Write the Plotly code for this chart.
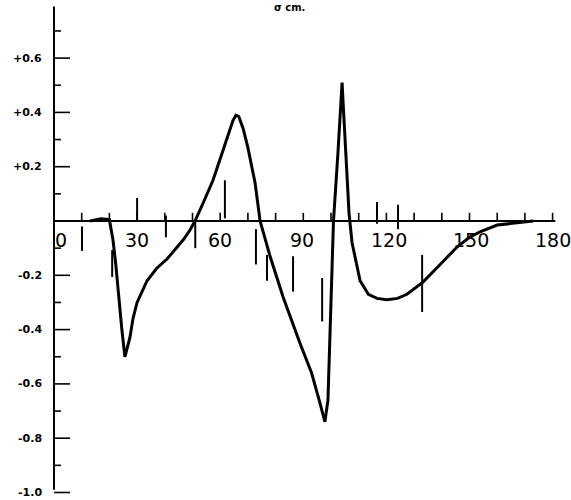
import plotly.graph_objects as go

# Traced response curve (x in degrees, y in cm)
curve_x = [13, 17, 20, 21.3, 22.3, 23.1, 24.5, 25.6, 27.4, 28.5, 30, 33.6, 37, 40.8,
           44, 46.6, 49, 50.9, 54, 57.4, 61, 63.3, 64.6, 65.7, 66.7, 68.3, 70, 72.6,
           74.4, 78, 82.7, 88.8, 93, 96, 97.8, 98.9, 99.8, 100.9, 102.5, 104, 104.4,
           105.5, 106.5, 107.6, 110.5, 113.5, 116.6, 120.2, 124, 127.4, 133.2, 139.4,
           145.5, 150, 153.8, 160, 169.3, 173]
curve_y = [0.0, 0.008, 0.005, -0.07, -0.16, -0.25, -0.40, -0.50, -0.43, -0.36, -0.30,
           -0.22, -0.175, -0.14, -0.10, -0.07, -0.035, 0.0, 0.07, 0.15, 0.26, 0.33,
           0.37, 0.39, 0.385, 0.34, 0.27, 0.14, 0.0, -0.13, -0.28, -0.45, -0.56, -0.67,
           -0.74, -0.66, -0.33, 0.0, 0.25, 0.51, 0.43, 0.22, 0.03, -0.08, -0.22, -0.27,
           -0.285, -0.29, -0.285, -0.27, -0.225, -0.16, -0.096, -0.06, -0.04, -0.015,
           -0.005, 0.0]

# Vertical reference bars: position, lower end, upper end
bar_x = [10.1, 21.0, 30.0, 40.4, 51.0, 61.7, 72.9, 76.9, 86.3, 96.8, 116.6, 124.2, 132.9]
bar_lo = [-0.11, -0.206, 0.0, -0.06, -0.10, 0.01, -0.16, -0.22, -0.26, -0.37, -0.01, -0.03, -0.335]
bar_hi = [-0.02, -0.107, 0.085, 0.02, 0.0, 0.15, -0.03, -0.125, -0.13, -0.21, 0.07, 0.06, -0.125]

# Axis ticks and labels
x_ticks = list(range(10, 190, 10))
x_labels = ["0", "30", "60", "90", "120", "150", "180"]
x_label_pos = [2.5, 30, 60, 89.5, 121, 150.5, 180]
y_major = [0.6, 0.4, 0.2, -0.2, -0.4, -0.6, -0.8, -1.0]
y_major_labels = ["+0.6", "+0.4", "+0.2", "-0.2", "-0.4", "-0.6", "-0.8", "-1.0"]
y_minor = [0.7, 0.5, 0.3, 0.1, -0.1, -0.3, -0.5, -0.7, -0.9]

fig = go.Figure()

fig.add_trace(go.Scatter(x=curve_x, y=curve_y, mode="lines",
                         line=dict(color="black", width=3), hoverinfo="skip"))

shapes = []
ink = dict(color="black", width=2)
# axes crossing at the origin
shapes.append(dict(type="line", xref="x", yref="y", x0=0, x1=181, y0=0, y1=0, line=ink))
shapes.append(dict(type="line", xref="x", yref="y", x0=0, x1=0, y0=0.79, y1=-0.99, line=ink))
for t in x_ticks:
    shapes.append(dict(type="line", xref="x", yref="y", x0=t, x1=t, y0=0, y1=0.03,
                       line=dict(color="black", width=1.6)))
for t in y_major:
    shapes.append(dict(type="line", xref="x", yref="y", x0=0, x1=5.8, y0=t, y1=t,
                       line=dict(color="black", width=1.6)))
for t in y_minor:
    shapes.append(dict(type="line", xref="x", yref="y", x0=0, x1=2.5, y0=t, y1=t,
                       line=dict(color="black", width=1.6)))
for bx, lo, hi in zip(bar_x, bar_lo, bar_hi):
    shapes.append(dict(type="line", xref="x", yref="y", x0=bx, x1=bx, y0=lo, y1=hi,
                       line=dict(color="black", width=2)))

annotations = []
for lab, pos in zip(x_labels, x_label_pos):
    annotations.append(dict(xref="x", yref="y", x=pos, y=-0.07, text=lab, showarrow=False,
                            xanchor="center", yanchor="middle",
                            font=dict(family="DejaVu Sans", size=19, color="black")))
for lab, pos in zip(y_major_labels, y_major):
    annotations.append(dict(xref="x", yref="y", x=-3.6, y=pos, text=lab, showarrow=False,
                            xanchor="right", yanchor="middle",
                            font=dict(family="DejaVu Sans", size=11, color="black",
                                      weight="bold")))
annotations.append(dict(xref="x", yref="paper", x=85, y=1.0, text="σ cm.",
                        showarrow=False, xanchor="center", yanchor="top",
                        font=dict(family="DejaVu Sans", size=10, color="black",
                                  weight="bold")))

x_px_per_unit = 2.77
y_px_per_unit = 271.5
fig.update_layout(
    width=571, height=500,
    margin=dict(l=0, r=0, t=0, b=0),
    paper_bgcolor="white", plot_bgcolor="white",
    showlegend=False,
    shapes=shapes, annotations=annotations,
    xaxis=dict(visible=False, range=[-54 / x_px_per_unit, (571 - 54) / x_px_per_unit]),
    yaxis=dict(visible=False, range=[-(500 - 221) / y_px_per_unit, 221 / y_px_per_unit]),
)

fig.write_html("out.html")
